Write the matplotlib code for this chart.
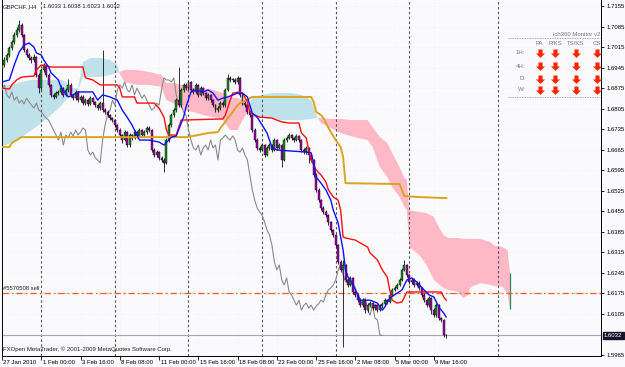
import matplotlib
matplotlib.use("Agg")
import matplotlib.pyplot as plt
import matplotlib.transforms as mtransforms
from matplotlib.path import Path
import numpy as np

# ---------------- data ----------------
first_open = 1.6940
closes = [
    1.6954, 1.6971, 1.6988, 1.7012, 1.7032, 1.7056, 1.7073, 1.7090, 1.7056, 1.7005,
    1.6988, 1.6978, 1.6971, 1.6981, 1.6920, 1.6875, 1.6937, 1.6954, 1.6920, 1.6886,
    1.6852, 1.6845, 1.6858, 1.6862, 1.6875, 1.6852, 1.6869, 1.6886, 1.6852, 1.6841,
    1.6862, 1.6834, 1.6845, 1.6824, 1.6834, 1.6821, 1.6841, 1.6828, 1.6817, 1.6807,
    1.6824, 1.6800, 1.6794, 1.6783, 1.6773, 1.6766, 1.6749, 1.6732, 1.6715, 1.6698,
    1.6725, 1.6681, 1.6715, 1.6705, 1.6725, 1.6712, 1.6732, 1.6715, 1.6725, 1.6739,
    1.6732, 1.6664, 1.6647, 1.6657, 1.6637, 1.6630, 1.6620, 1.6698, 1.6749, 1.6783,
    1.6800, 1.6834, 1.6817, 1.6869, 1.6886, 1.6875, 1.6896, 1.6869, 1.6862, 1.6886,
    1.6852, 1.6875, 1.6858, 1.6841, 1.6852, 1.6834, 1.6817, 1.6800, 1.6807, 1.6824,
    1.6817, 1.6869, 1.6910, 1.6903, 1.6903, 1.6896, 1.6910, 1.6852, 1.6824, 1.6817,
    1.6794, 1.6783, 1.6732, 1.6698, 1.6671, 1.6664, 1.6681, 1.6647, 1.6671, 1.6681,
    1.6664, 1.6698, 1.6671, 1.6681, 1.6630, 1.6698, 1.6705, 1.6715, 1.6705, 1.6698,
    1.6712, 1.6698, 1.6664, 1.6657, 1.6671, 1.6647, 1.6630, 1.6579, 1.6528, 1.6493,
    1.6466, 1.6453, 1.6442, 1.6418, 1.6391, 1.6374, 1.6340, 1.6282, 1.6255, 1.6272,
    1.6221, 1.6204, 1.6228, 1.6180, 1.6170, 1.6152, 1.6135, 1.6152, 1.6118, 1.6135,
    1.6142, 1.6125, 1.6135, 1.6118, 1.6132, 1.6139, 1.6152, 1.6146, 1.6170, 1.6187,
    1.6194, 1.6204, 1.6221, 1.6255, 1.6272, 1.6238, 1.6214, 1.6221, 1.6204, 1.6211,
    1.6194, 1.6170, 1.6152, 1.6135, 1.6159, 1.6118, 1.6101, 1.6135, 1.6091, 1.6084,
    1.6033, 1.6032]
highs = [
    1.6962, 1.6980, 1.6995, 1.7020, 1.7040, 1.7065, 1.7082, 1.7107, 1.7096, 1.7060,
    1.7012, 1.6995, 1.6985, 1.6990, 1.6986, 1.6925, 1.6945, 1.6962, 1.6958, 1.6925,
    1.6890, 1.6860, 1.6865, 1.6870, 1.6885, 1.6880, 1.6876, 1.6905, 1.6892, 1.6860,
    1.6870, 1.6866, 1.6852, 1.6850, 1.6841, 1.6838, 1.6848, 1.6846, 1.6832, 1.6822,
    1.6830, 1.7005, 1.6806, 1.6799, 1.6788, 1.6778, 1.6770, 1.6754, 1.6738, 1.6720,
    1.6732, 1.6730, 1.6722, 1.6720, 1.6732, 1.6730, 1.6738, 1.6736, 1.6731, 1.6745,
    1.6746, 1.6736, 1.6670, 1.6664, 1.6662, 1.6644, 1.6636, 1.6705, 1.6756, 1.6790,
    1.6808, 1.6842, 1.6947, 1.6876, 1.6893, 1.6892, 1.6903, 1.6900, 1.6875, 1.6893,
    1.6890, 1.6882, 1.6880, 1.6863, 1.6858, 1.6856, 1.6838, 1.6822, 1.6814, 1.6830,
    1.6830, 1.6875, 1.6923, 1.6916, 1.6910, 1.6908, 1.6916, 1.6914, 1.6857, 1.6830,
    1.6822, 1.6800, 1.6788, 1.6738, 1.6704, 1.6678, 1.6688, 1.6686, 1.6678, 1.6688,
    1.6686, 1.6705, 1.6702, 1.6688, 1.6686, 1.6705, 1.6712, 1.6722, 1.6720, 1.6710,
    1.6718, 1.6716, 1.6702, 1.6670, 1.6677, 1.6675, 1.6652, 1.6635, 1.6584, 1.6533,
    1.6498, 1.6472, 1.6458, 1.6447, 1.6423, 1.6396, 1.6378, 1.6345, 1.6288, 1.6289,
    1.6276, 1.6226, 1.6235, 1.6232, 1.6186, 1.6175, 1.6158, 1.6158, 1.6156, 1.6142,
    1.6148, 1.6146, 1.6140, 1.6140, 1.6138, 1.6145, 1.6158, 1.6157, 1.6176, 1.6193,
    1.6200, 1.6210, 1.6228, 1.6262, 1.6289, 1.6276, 1.6242, 1.6228, 1.6226, 1.6218,
    1.6216, 1.6198, 1.6175, 1.6156, 1.6165, 1.6163, 1.6124, 1.6141, 1.6139, 1.6096,
    1.6088, 1.6038]
lows = [
    1.6932, 1.6948, 1.6964, 1.6982, 1.7005, 1.7025, 1.7050, 1.7066, 1.7050, 1.6998,
    1.6980, 1.6970, 1.6962, 1.6965, 1.6912, 1.6860, 1.6870, 1.6930, 1.6914, 1.6878,
    1.6845, 1.6838, 1.6840, 1.6850, 1.6856, 1.6846, 1.6848, 1.6862, 1.6845, 1.6834,
    1.6836, 1.6828, 1.6828, 1.6818, 1.6818, 1.6814, 1.6817, 1.6822, 1.6810, 1.6800,
    1.6802, 1.6794, 1.6787, 1.6776, 1.6766, 1.6758, 1.6742, 1.6725, 1.6708, 1.6688,
    1.6694, 1.6674, 1.6676, 1.6698, 1.6700, 1.6706, 1.6708, 1.6710, 1.6710, 1.6720,
    1.6726, 1.6658, 1.6640, 1.6640, 1.6630, 1.6622, 1.6589, 1.6615, 1.6692, 1.6742,
    1.6776, 1.6795, 1.6810, 1.6812, 1.6862, 1.6868, 1.6870, 1.6862, 1.6855, 1.6858,
    1.6846, 1.6848, 1.6852, 1.6835, 1.6836, 1.6828, 1.6810, 1.6793, 1.6795, 1.6802,
    1.6812, 1.6812, 1.6864, 1.6896, 1.6896, 1.6890, 1.6890, 1.6846, 1.6818, 1.6810,
    1.6788, 1.6776, 1.6726, 1.6690, 1.6664, 1.6656, 1.6660, 1.6640, 1.6642, 1.6665,
    1.6658, 1.6660, 1.6665, 1.6666, 1.6606, 1.6625, 1.6692, 1.6700, 1.6698, 1.6692,
    1.6694, 1.6692, 1.6658, 1.6650, 1.6652, 1.6620, 1.6622, 1.6572, 1.6520, 1.6486,
    1.6460, 1.6446, 1.6435, 1.6410, 1.6384, 1.6366, 1.6333, 1.6275, 1.6248, 1.5992,
    1.6214, 1.6197, 1.6200, 1.6173, 1.6162, 1.6145, 1.6128, 1.6130, 1.6110, 1.6112,
    1.6130, 1.6118, 1.6120, 1.6112, 1.6114, 1.6127, 1.6134, 1.6140, 1.6142, 1.6165,
    1.6182, 1.6190, 1.6200, 1.6216, 1.6250, 1.6231, 1.6207, 1.6208, 1.6198, 1.6199,
    1.6188, 1.6163, 1.6145, 1.6128, 1.6130, 1.6105, 1.6095, 1.6096, 1.6084, 1.6076,
    1.6025, 1.6023]

tenkan_i = [0, 3, 5, 7, 9, 11, 13, 14, 16, 17, 19, 20, 23, 24, 27, 29, 31, 37, 39, 41, 44, 47, 49, 51, 53, 54,
            56, 60, 64, 66, 68, 69, 71, 74, 75, 77, 79, 82, 84, 86, 88, 90, 92, 96, 98, 100, 101, 102, 104,
            106, 108, 110, 112, 124, 126, 127, 128, 130, 132, 134, 135, 137, 138, 139, 140, 141, 142, 144,
            146, 150, 153, 155, 156, 158, 161, 163, 165, 167, 169, 172, 174, 176, 178, 180, 181]
tenkan_v = [1.6896, 1.6903, 1.6954, 1.6998, 1.7022, 1.7029, 1.7015, 1.6995, 1.6988, 1.6971, 1.6947, 1.6927,
            1.6903, 1.6879, 1.6845, 1.6852, 1.6862, 1.6862, 1.6834, 1.6852, 1.6845, 1.6834, 1.6800, 1.6776,
            1.6749, 1.6732, 1.6698, 1.6698, 1.6691, 1.6681, 1.6698, 1.6708, 1.6712, 1.6776, 1.6811, 1.6862,
            1.6869, 1.6862, 1.6869, 1.6858, 1.6834, 1.6841, 1.6845, 1.6858, 1.6858, 1.6845, 1.6817, 1.6790,
            1.6776, 1.6749, 1.6722, 1.6674, 1.6664, 1.6657, 1.6654, 1.6620, 1.6572, 1.6551, 1.6528, 1.6493,
            1.6459, 1.6415, 1.6368, 1.6323, 1.6255, 1.6231, 1.6221, 1.6187, 1.6152, 1.6152, 1.6142, 1.6118,
            1.6129, 1.6159, 1.6176, 1.6187, 1.6221, 1.6228, 1.6214, 1.6187, 1.6170, 1.6163, 1.6129, 1.6108,
            1.6095]

kijun_i = [0, 3, 4, 6, 8, 13, 14, 16, 20, 33, 34, 37, 40, 47, 48, 49, 54, 55, 62, 64, 66, 67, 68, 71, 72, 73,
           90, 91, 93, 94, 97, 98, 100, 101, 103, 105, 110, 112, 114, 117, 121, 122, 124, 125, 126, 128, 130,
           132, 133, 135, 137, 138, 139, 140, 144, 146, 149, 150, 153, 155, 157, 158, 159, 161, 163, 164, 165,
           179, 180, 181]
kijun_v = [1.6875, 1.6872, 1.6886, 1.6903, 1.6913, 1.6916, 1.6937, 1.6954, 1.6947, 1.6947, 1.6910, 1.6903,
           1.6886, 1.6886, 1.6875, 1.6845, 1.6845, 1.6824, 1.6824, 1.6807, 1.6776, 1.6732, 1.6715, 1.6715,
           1.6742, 1.6766, 1.6770, 1.6783, 1.6834, 1.6858, 1.6862, 1.6858, 1.6828, 1.6794, 1.6783, 1.6776,
           1.6773, 1.6766, 1.6760, 1.6756, 1.6756, 1.6722, 1.6705, 1.6664, 1.6630, 1.6596, 1.6579, 1.6555,
           1.6528, 1.6504, 1.6493, 1.6459, 1.6368, 1.6364, 1.6357, 1.6347, 1.6333, 1.6313, 1.6289, 1.6255,
           1.6231, 1.6187, 1.6152, 1.6142, 1.6146, 1.6163, 1.6180, 1.6180, 1.6163, 1.6152]

gold_i = [0, 3, 4, 6, 8, 75, 80, 84, 88, 89, 90, 92, 93, 94, 96, 97, 98, 100, 101, 102, 126, 127, 128, 130,
          131, 132, 134, 136, 138, 139, 140, 162, 163, 164, 169, 181]
gold_v = [1.6674, 1.6674, 1.6688, 1.6698, 1.6708, 1.6708, 1.6715, 1.6722, 1.6725, 1.6739, 1.6749, 1.6773,
          1.6783, 1.6794, 1.6817, 1.6824, 1.6828, 1.6834, 1.6841, 1.6845, 1.6845, 1.6828, 1.6794, 1.6783,
          1.6773, 1.6756, 1.6725, 1.6698, 1.6674, 1.6640, 1.6551, 1.6548, 1.6528, 1.6507, 1.6504, 1.6500]

cloud_i = [0, 4, 8, 12, 16, 20, 24, 26, 28, 31, 32, 33, 36, 40, 44, 47, 48, 50, 55, 60, 65, 67, 70, 74, 78, 82,
           86, 90, 93, 96, 98, 100, 102, 106, 110, 114, 118, 122, 126, 128, 130, 134, 138, 142, 145, 149,
           151, 154, 157, 159, 162, 164, 165, 166, 170, 173, 176, 178, 180, 182, 186, 188, 190, 191, 195,
           199, 201, 204, 206, 207]
span_a = [1.6886, 1.6886, 1.6896, 1.6903, 1.6903, 1.6903, 1.6903, 1.6896, 1.6875, 1.6875, 1.6920,
          1.6964, 1.6978, 1.6978, 1.6971, 1.6954, 1.6923, 1.6896, 1.6886, 1.6886, 1.6879,
          1.6834, 1.6824, 1.6800, 1.6794, 1.6783, 1.6777, 1.6766, 1.6732, 1.6732, 1.6766,
          1.6794, 1.6845, 1.6852, 1.6858, 1.6858, 1.6858, 1.6852, 1.6834, 1.6783, 1.6756,
          1.6739, 1.6722, 1.6712, 1.6705, 1.6698, 1.6674, 1.6606, 1.6572, 1.6538, 1.6504,
          1.6470, 1.6459, 1.6333, 1.6306, 1.6272, 1.6221, 1.6207, 1.6193, 1.6187, 1.6180,
          1.6159, 1.6170, 1.6197, 1.6210, 1.6204, 1.6200, 1.6197, 1.6176, 1.6122]
span_b = [1.6674, 1.6691, 1.6708, 1.6732, 1.6756, 1.6783, 1.6814, 1.6834, 1.6858, 1.6869, 1.6889,
          1.6913, 1.6913, 1.6913, 1.6920, 1.6927, 1.6930, 1.6937, 1.6937, 1.6930, 1.6920,
          1.6892, 1.6892, 1.6886, 1.6875, 1.6875, 1.6869, 1.6858, 1.6845, 1.6841, 1.6834,
          1.6817, 1.6777, 1.6773, 1.6770, 1.6766, 1.6766, 1.6766, 1.6770, 1.6773, 1.6773,
          1.6770, 1.6770, 1.6766, 1.6766, 1.6766, 1.6742, 1.6708, 1.6688, 1.6654, 1.6606,
          1.6569, 1.6562, 1.6459, 1.6453, 1.6449, 1.6436, 1.6401, 1.6374, 1.6364, 1.6364,
          1.6361, 1.6361, 1.6361, 1.6361, 1.6350, 1.6337, 1.6333, 1.6323, 1.6245]

chikou_shift = 26
separators = [16, 46, 76, 106, 136, 166, 202.2]
xtick_pos = [0, 16, 32, 48, 64, 80, 96, 112, 128, 144, 160, 176]
xtick_lab = ["27 Jan 2010", "1 Feb 00:00", "3 Feb 16:00", "8 Feb 08:00", "11 Feb 00:00", "15 Feb 16:00",
             "18 Feb 08:00", "23 Feb 00:00", "25 Feb 16:00", "2 Mar 08:00", "5 Mar 00:00", "9 Mar 16:00"]
ytick_vals = [1.7155, 1.7085, 1.7015, 1.6945, 1.6875, 1.6805, 1.6735, 1.6665, 1.6595, 1.6525,
              1.6455, 1.6385, 1.6315, 1.6245, 1.6175, 1.6105, 1.5965]
bid_price = 1.6032
order_price = 1.6175
monitor_cols = ["PA", "P/KS", "TS/KS", "CS"]
monitor_rows = ["1H:", "4H:", "D:", "W:"]

# ---------------- figure ----------------
W, H = 625, 367
FONT = "Liberation Sans"
plt.rcParams["font.family"] = [FONT, "DejaVu Sans"]
BG = "#FAF9FC"
fig = plt.figure(figsize=(W / 100, H / 100), dpi=100)
fig.patch.set_facecolor(BG)
ax = fig.add_axes([2 / W, 11 / H, 599 / W, 356 / H])
ax.set_facecolor(BG)
ax.set_xlim(0.1, 244.1)
ax.set_ylim(1.59617, 1.71755)

def fx(px):
    return px / W

def fy(py):
    return 1 - py / H

# grid (faint dotted)
for yv in ytick_vals:
    ax.axhline(yv, color="#e4e2ec", lw=0.4, ls=(0, (1, 4)), zorder=0)
for xv in xtick_pos:
    ax.axvline(xv, color="#e4e2ec", lw=0.4, ls=(0, (1, 4)), zorder=0)

# cloud
ci = np.array(cloud_i, float)
sa = np.array(span_a)
sb = np.array(span_b)
ax.fill_between(ci, sa, sb, where=sa >= sb, interpolate=True, color="#BFE2EA", lw=0, zorder=1)
ax.fill_between(ci, sa, sb, where=sa < sb, interpolate=True, color="#FFB9C6", lw=0, zorder=1)
ax.vlines(cloud_i[-1], span_a[-1], span_b[-1], color="#2e8b57", lw=0.9, zorder=1.5)

# separators
for s in separators:
    ax.axvline(s, color="#555555", lw=0.8, ls=(0, (2.2, 2.2)), zorder=2)

# horizontal lines
ax.axhline(bid_price, color="#a8a8a8", lw=0.8, zorder=2)
ax.axhline(order_price, color="#a9d6cf", lw=1.0, ls=(3, (2, 4)), zorder=2)
ax.axhline(order_price, color="#ff5a1f", lw=0.9, ls=(0, (5, 2.5, 1.2, 2.5)), zorder=2.1)

# chikou span: closes drawn 26 bars back
closes_a = np.array(closes)
n = len(closes_a)
idx = np.arange(n)
ax.plot(idx[chikou_shift:] - chikou_shift, closes_a[chikou_shift:], color="#8a8a8a", lw=0.8, zorder=3)

# candles
opens = np.array([first_open] + closes[:-1])
ax.vlines(idx, lows, highs, color="#111111", lw=0.6, zorder=4)
bull = closes_a >= opens
bottoms = np.minimum(opens, closes_a)
heights = np.maximum(np.abs(closes_a - opens), 0.00025)
ax.bar(idx, heights, bottom=bottoms, width=0.8, color=np.where(bull, "#1e8c1e", "#a000a8"),
       edgecolor="#000000", linewidth=0.3, zorder=4.5)

# indicator lines
ax.plot(gold_i, gold_v, color="#D9A520", lw=1.4, zorder=5)
ax.plot(kijun_i, kijun_v, color="#FF1010", lw=1.0, zorder=5.2)
ax.plot(tenkan_i, tenkan_v, color="#1010FF", lw=1.0, zorder=5.3)

# axes styling
ax.spines["top"].set_visible(False)
for side in ["left", "right", "bottom"]:
    ax.spines[side].set_color("#000000")
    ax.spines[side].set_linewidth(0.7)
ax.yaxis.tick_right()
ax.set_yticks(ytick_vals)
ax.set_yticklabels(["%.4f" % v for v in ytick_vals])
ax.tick_params(axis="y", right=True, left=False, length=2, width=0.6, pad=2, labelsize=4.3, colors="#000000")
ax.set_xticks(xtick_pos)
ax.set_xticklabels([])
ax.tick_params(axis="x", length=3, width=0.6, direction="out", colors="#000000")
trans = mtransforms.blended_transform_factory(ax.transData, ax.transAxes)
for p, lab in zip(xtick_pos, xtick_lab):
    ax.text(p + 0.6, -6.5 / 356, lab, transform=trans, ha="left", va="center", fontsize=4.3,
            color="#000000", clip_on=False)

# texts
fig.text(fx(3), fy(7), "GBPCHF.,H4", fontsize=4.2, color="#202020", ha="left", va="center")
fig.text(fx(43), fy(7), "1.6033 1.6038 1.6023 1.6032", fontsize=4.2, color="#202020", ha="left", va="center")
fig.text(fx(3), fy(349), "FXOpen MetaTrader, \u00a9 2001-2009 MetaQuotes Software Corp.", fontsize=4.3,
         color="#202020", ha="left", va="center")
fig.text(fx(3), fy(288.5), "#5570508 sell", fontsize=4.2, color="#202020", ha="left", va="center")
fig.text(fx(604), fy(335.5), "%.4f" % bid_price, fontsize=4.3, color="#ffffff", ha="left", va="center",
         bbox=dict(boxstyle="square,pad=0.25", fc="#16162a", ec="#16162a"))

# ichimoku monitor panel
fig.text(fx(600), fy(34), "ich360 Monitor v2", fontsize=4.3, color="#7a7a7a", ha="right", va="center")
fig.add_artist(plt.Line2D([fx(508), fx(600)], [fy(38), fy(38)], color="#8a8a8a", lw=0.6, ls=(0, (1, 1))))
fig.add_artist(plt.Line2D([fx(508), fx(600)], [fy(96.5), fy(96.5)], color="#8a8a8a", lw=0.6, ls=(0, (1, 1))))
col_x = [539.5, 555, 576, 597]
row_y = [53, 66, 78.5, 89.5]
for cx, lab in zip(col_x, monitor_cols):
    fig.text(fx(cx), fy(43.5), lab, fontsize=4.3, color="#7a7a7a", ha="center", va="center")
arrow = Path([(-0.28, 0.55), (0.28, 0.55), (0.28, 0.0), (0.62, 0.0), (0.0, -0.6), (-0.62, 0.0),
              (-0.28, 0.0), (-0.28, 0.55)],
             [Path.MOVETO] + [Path.LINETO] * 6 + [Path.CLOSEPOLY])
for ry, lab in zip(row_y, monitor_rows):
    fig.text(fx(525), fy(ry), lab, fontsize=4.3, color="#7a7a7a", ha="right", va="center")
    for cx in col_x:
        fig.add_artist(plt.Line2D([fx(cx)], [fy(ry)], marker=arrow, markersize=6.5, color="#ff2200",
                                  markeredgewidth=0, linestyle="none"))

fig.savefig("out.png", dpi=100, facecolor=BG)
